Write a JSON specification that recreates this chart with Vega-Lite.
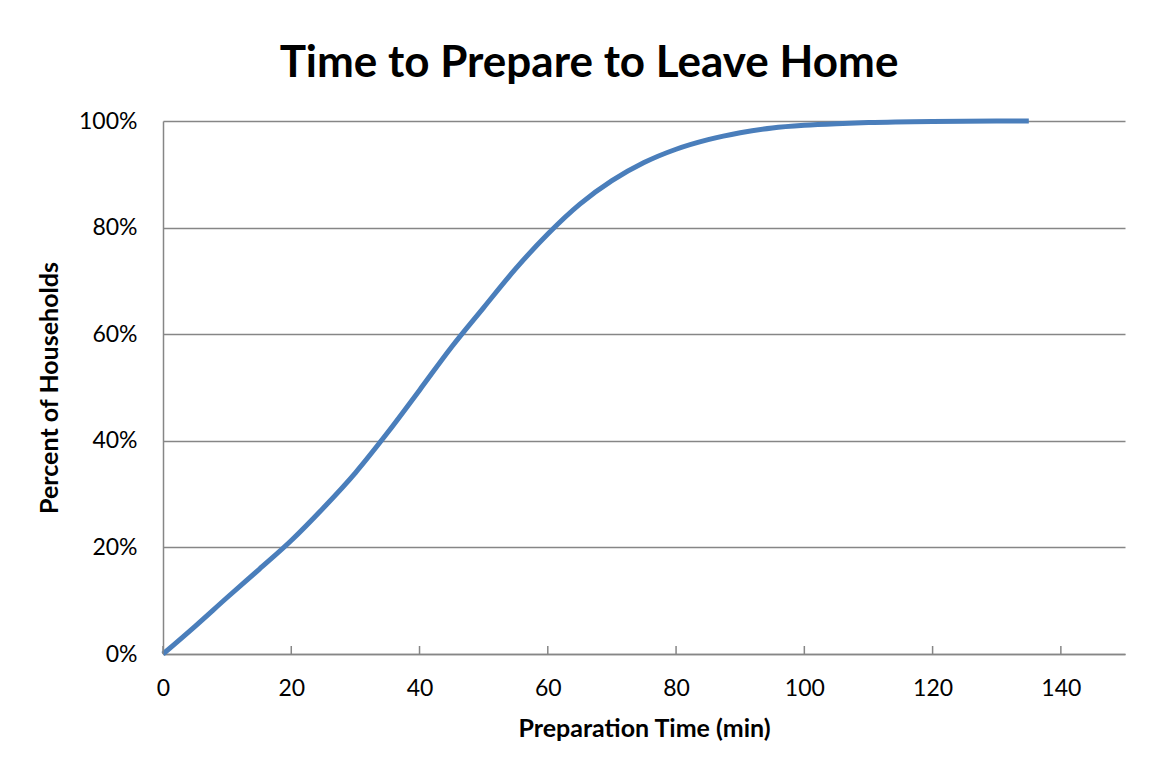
{
  "$schema": "https://vega.github.io/schema/vega-lite/v6.json",
  "width": 962,
  "height": 533,
  "autosize": {"type": "none"},
  "padding": {"left": 163, "top": 121, "right": 42, "bottom": 118},
  "background": "white",
  "config": {
    "view": {"stroke": null},
    "font": "Lato"
  },
  "title": {
    "text": "Time to Prepare to Leave Home",
    "font": "Lato",
    "fontSize": 44,
    "fontWeight": "bold",
    "color": "#000000",
    "anchor": "middle",
    "dx": -55,
    "offset": 24
  },
  "datasets": {
    "curve": [
      {"t": 0, "p": 0},
      {"t": 5, "p": 5.2},
      {"t": 10, "p": 10.6},
      {"t": 15, "p": 15.9},
      {"t": 20, "p": 21.3},
      {"t": 25, "p": 27.4},
      {"t": 30, "p": 34.0},
      {"t": 35, "p": 41.5},
      {"t": 40, "p": 49.5},
      {"t": 45, "p": 57.6},
      {"t": 50, "p": 65.0},
      {"t": 55, "p": 72.3},
      {"t": 60, "p": 78.8},
      {"t": 65, "p": 84.4},
      {"t": 70, "p": 88.8},
      {"t": 75, "p": 92.2},
      {"t": 80, "p": 94.7},
      {"t": 85, "p": 96.5},
      {"t": 90, "p": 97.8},
      {"t": 95, "p": 98.7},
      {"t": 100, "p": 99.2},
      {"t": 105, "p": 99.5},
      {"t": 110, "p": 99.7},
      {"t": 120, "p": 99.9},
      {"t": 135, "p": 100}
    ],
    "xticks": [
      {"t": 0}, {"t": 20}, {"t": 40}, {"t": 60}, {"t": 80}, {"t": 100}, {"t": 120}, {"t": 140}
    ]
  },
  "layer": [
    {
      "data": {"name": "curve"},
      "mark": {"type": "line", "color": "#4a7ebb", "strokeWidth": 5, "interpolate": "monotone"},
      "encoding": {
        "x": {
          "field": "t",
          "type": "quantitative",
          "scale": {"domain": [0, 150], "nice": false},
          "axis": {
            "title": "Preparation Time (min)",
            "titleFont": "Lato",
            "titleFontSize": 25,
            "titleFontWeight": "bold",
            "titleColor": "#000000",
            "titlePadding": 16,
            "values": [0, 20, 40, 60, 80, 100, 120, 140],
            "labelFont": "Lato",
            "labelFontSize": 23,
            "labelColor": "#000000",
            "labelPadding": 23,
            "labelFlush": false,
            "domainColor": "#868686",
            "domainWidth": 1.5,
            "ticks": false,
            "grid": false
          }
        },
        "y": {
          "field": "p",
          "type": "quantitative",
          "scale": {"domain": [0, 100], "nice": false},
          "axis": {
            "title": "Percent of Households",
            "titleFont": "Lato",
            "titleFontSize": 25,
            "titleFontWeight": "bold",
            "titleColor": "#000000",
            "titlePadding": 16,
            "values": [0, 20, 40, 60, 80, 100],
            "labelExpr": "datum.value + '%'",
            "labelFont": "Lato",
            "labelFontSize": 23,
            "labelColor": "#000000",
            "labelPadding": 26,
            "labelFlush": false,
            "domainColor": "#868686",
            "domainWidth": 1.5,
            "ticks": false,
            "grid": true,
            "gridColor": "#868686",
            "gridWidth": 1.5
          }
        }
      }
    },
    {
      "data": {"name": "xticks"},
      "mark": {"type": "tick", "orient": "vertical", "color": "#868686", "thickness": 1.5, "size": 8, "yOffset": -4, "opacity": 1},
      "encoding": {
        "x": {"field": "t", "type": "quantitative"},
        "y": {"datum": 0, "type": "quantitative"}
      }
    }
  ]
}
